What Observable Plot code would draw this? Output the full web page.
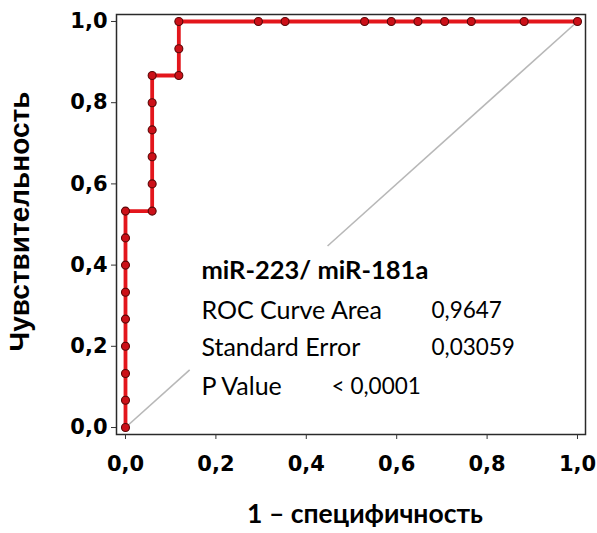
<!DOCTYPE html>
<html>
<head>
<meta charset="utf-8">
<script src="https://cdn.jsdelivr.net/npm/d3@7"></script>
<script src="https://cdn.jsdelivr.net/npm/@observablehq/plot@0.6"></script>
<style>
  html, body { margin: 0; padding: 0; background: #ffffff; }
  #chart svg { display: block; }
</style>
</head>
<body>
<div id="chart"></div>
<script>
// ROC curve points (1 - specificity, sensitivity)
const fpr = [0, 0, 0, 0, 0, 0, 0, 0, 0,
             0.059, 0.059, 0.059, 0.059, 0.059, 0.059,
             0.118, 0.118, 0.118,
             0.294, 0.353, 0.529, 0.588, 0.647, 0.706, 0.765, 0.882, 1.0];
const tpr = [0, 0.067, 0.133, 0.2, 0.267, 0.333, 0.4, 0.467, 0.533,
             0.533, 0.6, 0.667, 0.733, 0.8, 0.867,
             0.867, 0.933, 1.0,
             1, 1, 1, 1, 1, 1, 1, 1, 1];
// visible parts of the reference diagonal
const diagStart = [0, 0.447];
const diagEnd = [0.142, 1];
const ticks = [0, 0.2, 0.4, 0.6, 0.8, 1.0];
const xLabel = "1 – специфичность";
const yLabel = "Чувствительность";
const annotTitle = "miR-223/ miR-181a";
const annotLabels = ["ROC Curve Area", "Standard Error", "P Value"];
const annotValues = ["0,9647", "0,03059", "< 0,0001"];

const roc = fpr.map((x, i) => ({x, y: tpr[i]}));
const diag = diagStart.map((s, i) => ({x1: s, y1: s, x2: diagEnd[i], y2: diagEnd[i]}));
const fmt = d => d.toFixed(1).replace(".", ",");

const annFont = "Lato, 'Open Sans', sans-serif";
const tickFont = "'DejaVu Sans', Verdana, sans-serif";

const plot = Plot.plot({
  width: 597,
  height: 533,
  marginLeft: 116,
  marginRight: 12,
  marginTop: 14,
  marginBottom: 99,
  style: {background: "#ffffff", color: "#000000", overflow: "visible"},
  x: {domain: [-0.0199, 1.0177]},
  y: {domain: [-0.0172, 1.0172]},
  marks: [
    Plot.link(diag, {x1: "x1", y1: "y1", x2: "x2", y2: "y2", stroke: "#b8b8b8", strokeWidth: 1.6}),
    Plot.line(roc, {x: "x", y: "y", stroke: "#e3161c", strokeWidth: 3.8}),
    Plot.dot(roc, {x: "x", y: "y", r: 4, fill: "#cc1018", stroke: "#5a0808", strokeWidth: 1.1}),
    Plot.frame({stroke: "#2a2a2a", strokeWidth: 1.5}),
    Plot.axisX({ticks, tickFormat: fmt, tickSize: 5, tickPadding: 17, label: null,
      fontSize: 21, fontWeight: "bold", fontFamily: tickFont, stroke: "#333"}),
    Plot.axisY({ticks, tickFormat: fmt, tickSize: 5, tickPadding: 4, label: null,
      fontSize: 21, fontWeight: "bold", fontFamily: tickFont, stroke: "#333"}),
    Plot.text([xLabel], {frameAnchor: "bottom", dx: 14, dy: 88, text: d => d, fontSize: 26.5, fontWeight: "bold",
      fontFamily: annFont, fill: "#000"}),
    Plot.text([yLabel], {frameAnchor: "left", textAnchor: "middle", dx: -96, dy: -3, rotate: -90, text: d => d,
      fontSize: 28, fontWeight: "bold", fontFamily: "'Liberation Sans', Arial, sans-serif", fill: "#000"}),
    Plot.text([annotTitle], {x: 0.168, y: 0.385, text: d => d, textAnchor: "start", fontSize: 25.5, fontWeight: "bold",
      fontFamily: annFont, fill: "#000"}),
    Plot.text(annotLabels, {x: 0.168, y: [0.288, 0.197, 0.101], text: d => d, textAnchor: "start", fontSize: 25,
      fontFamily: annFont, fill: "#000"}),
    Plot.text(annotValues.slice(0, 2), {x: 0.677, y: [0.288, 0.197], text: d => d, textAnchor: "start", fontSize: 22.5,
      fontFamily: annFont, fill: "#000"}),
    Plot.text(annotValues.slice(2), {x: 0.456, y: 0.101, text: d => d, textAnchor: "start", fontSize: 22.5,
      fontFamily: annFont, fill: "#000"})
  ]
});
document.getElementById("chart").appendChild(plot);
</script>
</body>
</html>
